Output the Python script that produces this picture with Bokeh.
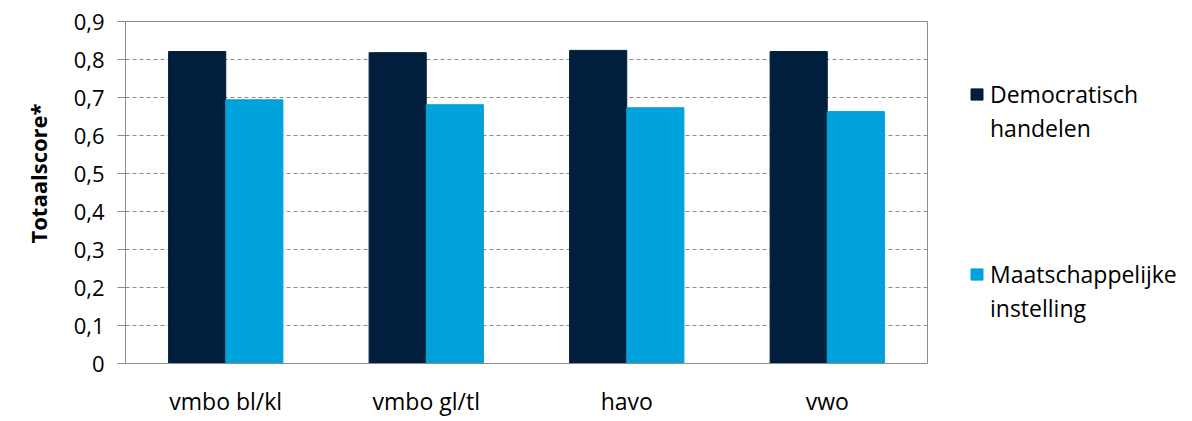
from bokeh.plotting import figure
from bokeh.models import (ColumnDataSource, FactorRange, Range1d, FixedTicker,
                          Legend, LegendItem, Title)
from bokeh.transform import dodge
from bokeh.embed import file_html
from bokeh.resources import INLINE

categories = ["vmbo bl/kl", "vmbo gl/tl", "havo", "vwo"]
democratisch = [0.821, 0.818, 0.824, 0.821]
maatschappelijk = [0.694, 0.681, 0.673, 0.663]
legend_lines_1 = ["Democratisch", "handelen"]
legend_lines_2 = ["Maatschappelijke", "instelling"]
y_title = "Totaalscore*"
y_ticks = [0.0, 0.1, 0.2, 0.3, 0.4, 0.5, 0.6, 0.7, 0.8, 0.9]
y_tick_labels = ["0", "0,1", "0,2", "0,3", "0,4", "0,5", "0,6", "0,7", "0,8", "0,9"]

FONT = "Open Sans"
DARK = "#011E3C"
LIGHT = "#00A2DB"
GRID = "#8C8C8C"

src = ColumnDataSource(dict(cat=categories, d=democratisch, m=maatschappelijk))

p = figure(x_range=FactorRange(factors=categories, range_padding=0),
           y_range=Range1d(0, 0.9),
           frame_width=802, frame_height=342,
           min_border_left=125, min_border_top=21, min_border_bottom=50,
           min_border_right=0,
           output_backend="svg", toolbar_location=None)

r1 = p.vbar(x=dodge("cat", -0.1425, range=p.x_range), top="d", width=0.285,
            source=src, fill_color=DARK, line_color=DARK)
r2 = p.vbar(x=dodge("cat", 0.1425, range=p.x_range), top="m", width=0.285,
            source=src, fill_color=LIGHT, line_color=LIGHT)
blank = p.vbar(x=dodge("cat", 0, range=p.x_range), top="m", width=0.1,
               source=src, fill_alpha=0, line_alpha=0)

p.outline_line_color = GRID
p.outline_line_width = 1
p.xgrid.grid_line_color = None
p.ygrid.grid_line_color = GRID
p.ygrid.grid_line_dash = "4 3"
p.ygrid.grid_line_width = 1

p.yaxis.ticker = FixedTicker(ticks=y_ticks)
p.yaxis.major_label_overrides = {t: l for t, l in zip(y_ticks, y_tick_labels)}
p.yaxis.axis_line_color = GRID
p.yaxis.major_tick_line_color = GRID
p.yaxis.major_tick_out = 8
p.yaxis.major_tick_in = 0
p.yaxis.minor_tick_line_color = None
p.yaxis.major_label_text_font = FONT
p.yaxis.major_label_text_font_size = "22px"
p.yaxis.major_label_text_color = "black"
p.yaxis.major_label_standoff = 13

title = Title(text=y_title, align="left", offset=120,
              text_font=FONT, text_font_size="22px", text_font_style="bold",
              text_color="black")
if "standoff" in Title.properties():
    title.standoff = 36
p.add_layout(title, "left")

p.xaxis.axis_line_color = GRID
p.xaxis.major_tick_line_color = None
p.xaxis.minor_tick_line_color = None
p.xaxis.major_label_text_font = FONT
p.xaxis.major_label_text_font_size = "23px"
p.xaxis.major_label_text_color = "black"
p.xaxis.major_label_standoff = 15

spacer_count = 7
items = ([LegendItem(label=legend_lines_1[0], renderers=[r1]),
          LegendItem(label=legend_lines_1[1], renderers=[blank])]
         + [LegendItem(label=" ", renderers=[blank]) for _ in range(spacer_count)]
         + [LegendItem(label=legend_lines_2[0], renderers=[r2]),
            LegendItem(label=legend_lines_2[1], renderers=[blank])])

legend = Legend(items=items, location=(42, 39), orientation="vertical",
                label_text_font=FONT, label_text_font_size="23px",
                label_text_color="black", glyph_width=15, glyph_height=14,
                spacing=2, padding=0, margin=24,
                border_line_color=None, background_fill_alpha=0,
                label_standoff=6)
p.add_layout(legend, "right")

html = file_html(p, INLINE)
open("out.html", "w").write(html)
